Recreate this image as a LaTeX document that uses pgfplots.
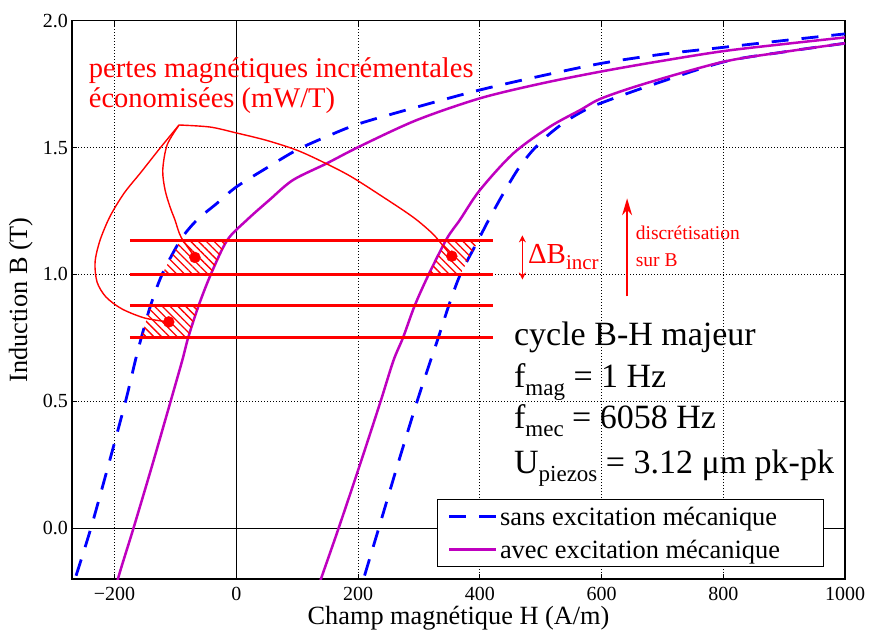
\documentclass[border=0pt]{standalone}
\usepackage{fontspec}
\setmainfont{Liberation Serif}
\usepackage{pgfplots}
\pgfplotsset{compat=1.18}
\usetikzlibrary{patterns.meta, arrows.meta}
\definecolor{mymag}{rgb}{0.75,0,0.75}
\begin{document}
\begin{tikzpicture}
\path[use as bounding box] (-72pt,-55pt) rectangle (797pt,579pt);
\begin{axis}[
  at={(0pt,0pt)}, anchor=south west,
  scale only axis, width=773pt, height=558.3pt,
  xmin=-270, xmax=1000, ymin=-0.2, ymax=2.0,
  xtick={-200,0,200,400,600,800,1000},
  xticklabels={−200,0,200,400,600,800,1000},
  ytick={0,0.5,1,1.5,2},
  yticklabels={0.0,0.5,1.0,1.5,2.0},
  tick label style={font=\fontsize{20}{24}\selectfont, inner sep=0pt},
  xticklabel style={yshift=-8pt},
  yticklabel style={xshift=-4pt},
  tick align=inside, tick pos=both, major tick length=5pt,
  tick style={black, line width=0.8pt},
  axis line style={black, line width=1.2pt},
  grid=major,
  grid style={black, line width=0.8pt, dash pattern=on 1pt off 2pt},
  xlabel={Champ magnétique H (A/m)},
  ylabel={Induction B (T)},
  label style={font=\fontsize{26.3}{30}\selectfont, inner sep=0pt},
  xlabel style={at={(axis description cs:0.5,0)}, anchor=north, yshift=-27pt},
  ylabel style={at={(axis description cs:-0.0505,0.5)}, anchor=south},
  legend style={at={(axis description cs:1,0)}, anchor=south east, xshift=-21pt, yshift=12pt,
    draw=black, line width=1pt, fill=white, font=\fontsize{26.4}{30}\selectfont,
    inner xsep=10pt, inner ysep=4.5pt, nodes={inner sep=2.5pt}, row sep=8pt},
  legend cell align=left,
  legend image code/.code={\draw[#1] (0pt,0pt) -- (47pt,0pt);},
]
% axis lines at zero
\addplot[black, line width=1pt, forget plot] coordinates {(0,-0.2) (0,2)};
\addplot[black, line width=1pt, forget plot] coordinates {(-270,0) (1000,0)};

% sans excitation (dashed blue)
\addplot[blue, line width=2.8pt, dash pattern=on 17pt off 13pt, smooth] coordinates {
(-278,-0.3) (-265,-0.2) (-239,0) (-210,0.25) (-182,0.5) (-166,0.66) (-156,0.752) (-141,0.877)
(-122,1.0) (-92,1.135) (-65,1.214) (-32,1.28) (0,1.345) (50,1.42) (99,1.49) (150,1.545)
(203,1.595) (300,1.662) (400,1.727) (500,1.782) (600,1.832) (700,1.868) (800,1.895) (900,1.922) (1000,1.948)};
\addlegendentry{sans excitation mécanique}
\addplot[blue, line width=2.8pt, dash pattern=on 17pt off 13pt, smooth, forget plot] coordinates {
(197,-0.3) (209,-0.2) (234,0) (265,0.25) (297,0.5) (319,0.66) (332,0.752) (349,0.877) (368,1.0)
(397.1,1.134) (416.8,1.225) (439.8,1.324) (462.8,1.415) (485.8,1.486) (512.1,1.549) (541.7,1.604)
(572.9,1.648) (597.6,1.674) (674.2,1.740) (799.6,1.837) (900,1.877) (1000,1.911)};

% avec excitation (magenta)
\addplot[mymag, line width=2.5pt, smooth] coordinates {
(-202,-0.3) (-194.5,-0.2) (-169,0) (-138,0.25) (-108,0.5) (-89,0.66) (-79,0.752) (-62,0.877)
(-42,1.0) (-15,1.135) (17,1.214) (55,1.295) (93,1.372) (148,1.437) (203,1.505) (296,1.608)
(400,1.694) (500,1.752) (600,1.80) (700,1.842) (800,1.88) (900,1.908) (1000,1.934)};
\addlegendentry{avec excitation mécanique\rule{31pt}{0pt}}
\addplot[mymag, line width=2.5pt, smooth, forget plot] coordinates {
(125,-0.3) (139,-0.2) (168,0) (203,0.25) (237,0.5) (258,0.66) (274,0.752) (293,0.877) (316,1.0)
(346,1.142) (367,1.214) (400,1.332) (455,1.477) (515,1.582) (565,1.648) (600,1.694) (674,1.754)
(800,1.838) (900,1.877) (1000,1.911)};

% red thin annotation curves
\addplot[red, line width=1.4pt, smooth, forget plot] coordinates {
(-94.1,1.589) (-43.2,1.581) (-0.5,1.558) (48.8,1.529) (99.2,1.490) (142.4,1.443) (186.8,1.388)
(236.1,1.313) (290.3,1.226) (323.2,1.159) (342.9,1.103) (353.9,1.072)};
\addplot[red, line width=1.4pt, smooth, forget plot] coordinates {
(-94.1,1.589) (-113.8,1.510) (-120.9,1.411) (-117.1,1.333) (-108.9,1.266) (-100.7,1.214)
(-90.8,1.147) (-67.8,1.068)};
\addplot[red, line width=1.4pt, smooth, forget plot] coordinates {
(-94.1,1.589) (-125.3,1.498) (-156.6,1.403) (-184.5,1.320) (-207.5,1.229) (-223.9,1.135)
(-232.1,1.049) (-228.8,0.970) (-214.1,0.911) (-187.8,0.864) (-150.0,0.828) (-110.6,0.813)};

% hatched regions
\addplot[draw=none, pattern={Lines[angle=-45,distance=5.5pt,line width=1.3pt]}, pattern color=red, forget plot]
 coordinates {(-122,1.0) (-107,1.068) (-92,1.135) (-15,1.135) (-29,1.068) (-42,1.0)} -- cycle;
\addplot[draw=none, pattern={Lines[angle=-45,distance=5.5pt,line width=1.3pt]}, pattern color=red, forget plot]
 coordinates {(-156,0.752) (-148.5,0.815) (-141,0.877) (-62,0.877) (-70.5,0.815) (-79,0.752)} -- cycle;
\addplot[draw=none, pattern={Lines[angle=-45,distance=5.5pt,line width=1.3pt]}, pattern color=red, forget plot]
 coordinates {(316,1.0) (331,1.068) (346,1.135) (398,1.135) (383,1.068) (368,1.0)} -- cycle;

% horizontal red lines
\addplot[red, line width=3.4pt, forget plot] coordinates {(-175,1.135) (422,1.135)};
\addplot[red, line width=3.4pt, forget plot] coordinates {(-175,1.0) (422,1.0)};
\addplot[red, line width=3.4pt, forget plot] coordinates {(-175,0.877) (422,0.877)};
\addplot[red, line width=3.4pt, forget plot] coordinates {(-175,0.752) (422,0.752)};

% dots
\addplot[only marks, mark=*, mark size=5.5pt, red, forget plot] coordinates {(-68,1.067) (-111,0.813) (354,1.072)};

% arrows
\draw[red, line width=1.6pt, {Stealth[length=7pt,width=7pt]}-{Stealth[length=7pt,width=7pt]}] (axis cs:470,0.98) -- (axis cs:470,1.154);
\draw[red, line width=1.6pt, -{Stealth[length=17pt,width=10pt]}] (axis cs:642,0.914) -- (axis cs:642,1.30);

% texts
\node[red, anchor=base west, inner sep=0pt, font=\fontsize{28.5}{32}\selectfont] at (axis cs:-242.5,1.778) {pertes magnétiques incrémentales};
\node[red, anchor=base west, inner sep=0pt, font=\fontsize{28.5}{32}\selectfont] at (axis cs:-242.5,1.656) {économisées (mW/T)};
\node[red, anchor=base west, inner sep=0pt, font=\fontsize{29}{32}\selectfont] at (axis cs:479,1.043) {ΔB\raisebox{-6pt}{\fontsize{21}{21}\selectfont incr}};
\node[red, anchor=base west, inner sep=0pt, font=\fontsize{19.5}{22}\selectfont] at (axis cs:656,1.137) {discrétisation};
\node[red, anchor=base west, inner sep=0pt, font=\fontsize{19.5}{22}\selectfont] at (axis cs:656,1.03) {sur B};

\node[black, anchor=base west, inner sep=0pt, font=\fontsize{34}{38}\selectfont] at (axis cs:456,0.72) {cycle B-H majeur};
\node[black, anchor=base west, inner sep=0pt, font=\fontsize{34}{38}\selectfont] at (axis cs:456,0.554) {f\raisebox{-8pt}{\fontsize{23}{23}\selectfont mag} = 1 Hz};
\node[black, anchor=base west, inner sep=0pt, font=\fontsize{34}{38}\selectfont] at (axis cs:456,0.392) {f\raisebox{-8pt}{\fontsize{23}{23}\selectfont mec} = 6058 Hz};
\node[black, anchor=base west, inner sep=0pt, font=\fontsize{34}{38}\selectfont] at (axis cs:456,0.215) {U\raisebox{-8pt}{\fontsize{23}{23}\selectfont piezos} = 3.12 μm pk-pk};
\end{axis}
\end{tikzpicture}
\end{document}
